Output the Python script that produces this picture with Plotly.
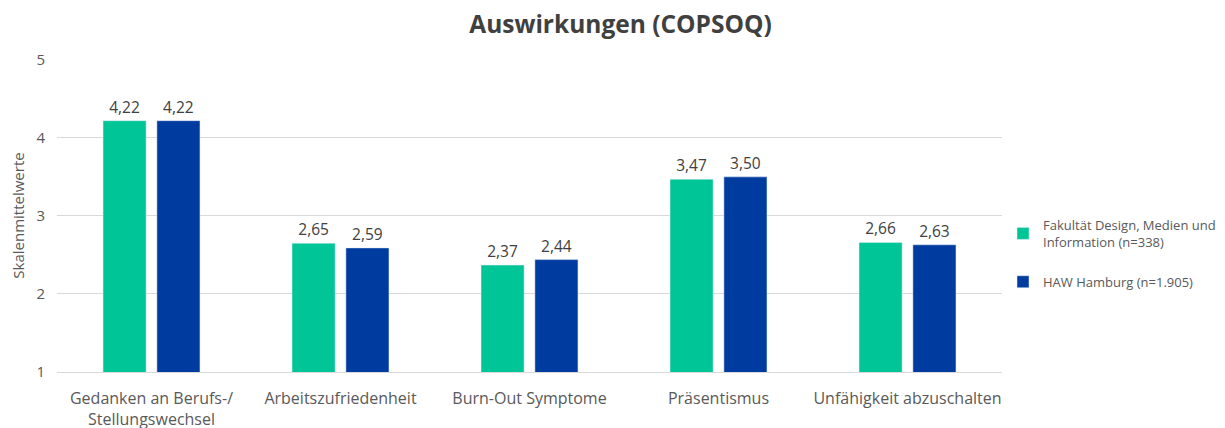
import plotly.graph_objects as go

categories = ["Gedanken an Berufs-/<br>Stellungswechsel", "Arbeitszufriedenheit",
              "Burn-Out Symptome", "Präsentismus", "Unfähigkeit abzuschalten"]
fakultaet = [4.22, 2.65, 2.37, 3.47, 2.66]
haw = [4.22, 2.59, 2.44, 3.50, 2.63]
series_names = ["Fakultät Design, Medien und<br>Information (n=338)", "HAW Hamburg (n=1.905)"]
colors = ["#00C697", "#003CA0"]

def fmt(v):
    return f"{v:.2f}".replace(".", ",")

fig = go.Figure()
for i, (name, vals, col) in enumerate(zip(series_names, [fakultaet, haw], colors)):
    fig.add_trace(go.Bar(
        x=categories, y=vals, name=name, marker_color=col, legendgroup=f"g{i}",
        text=[fmt(v) for v in vals], textposition="outside",
        textfont=dict(size=15.5, color="#404040"), cliponaxis=False,
    ))

# page body has an 8px default margin; figure coordinates are offset accordingly
fig.update_layout(
    width=1225, height=428,
    font=dict(family="Open Sans", color="#595959"),
    title=dict(text="<b>Auswirkungen (COPSOQ)</b>", x=0.5, xanchor="center",
               yref="container", y=1 - 16 / 428, yanchor="middle",
               font=dict(size=24.5, color="#404040")),
    barmode="group", bargap=0.43, bargroupgap=0.2,
    plot_bgcolor="white", paper_bgcolor="white",
    margin=dict(l=49, r=231, t=51, b=64, autoexpand=False),
    yaxis=dict(range=[1, 5.01], dtick=1, showgrid=True, gridcolor="#d9d9d9",
               zeroline=False, tickfont=dict(size=15, color="#595959"), ticklabelstandoff=11,
               automargin=False,
               title=dict(text="Skalenmittelwerte", font=dict(size=15, color="#595959"), standoff=12)),
    xaxis=dict(tickfont=dict(size=16, color="#595959"), showline=True, linecolor="#d9d9d9",
               linewidth=1, automargin=False, ticklabelstandoff=12),
    legend=dict(xref="container", x=995 / 1225, yref="container", y=1 - 202 / 428,
                xanchor="left", yanchor="top", traceorder="grouped",
                font=dict(size=13, color="#595959"), tracegroupgap=20, itemwidth=30),
)
fig.write_html("out.html")
